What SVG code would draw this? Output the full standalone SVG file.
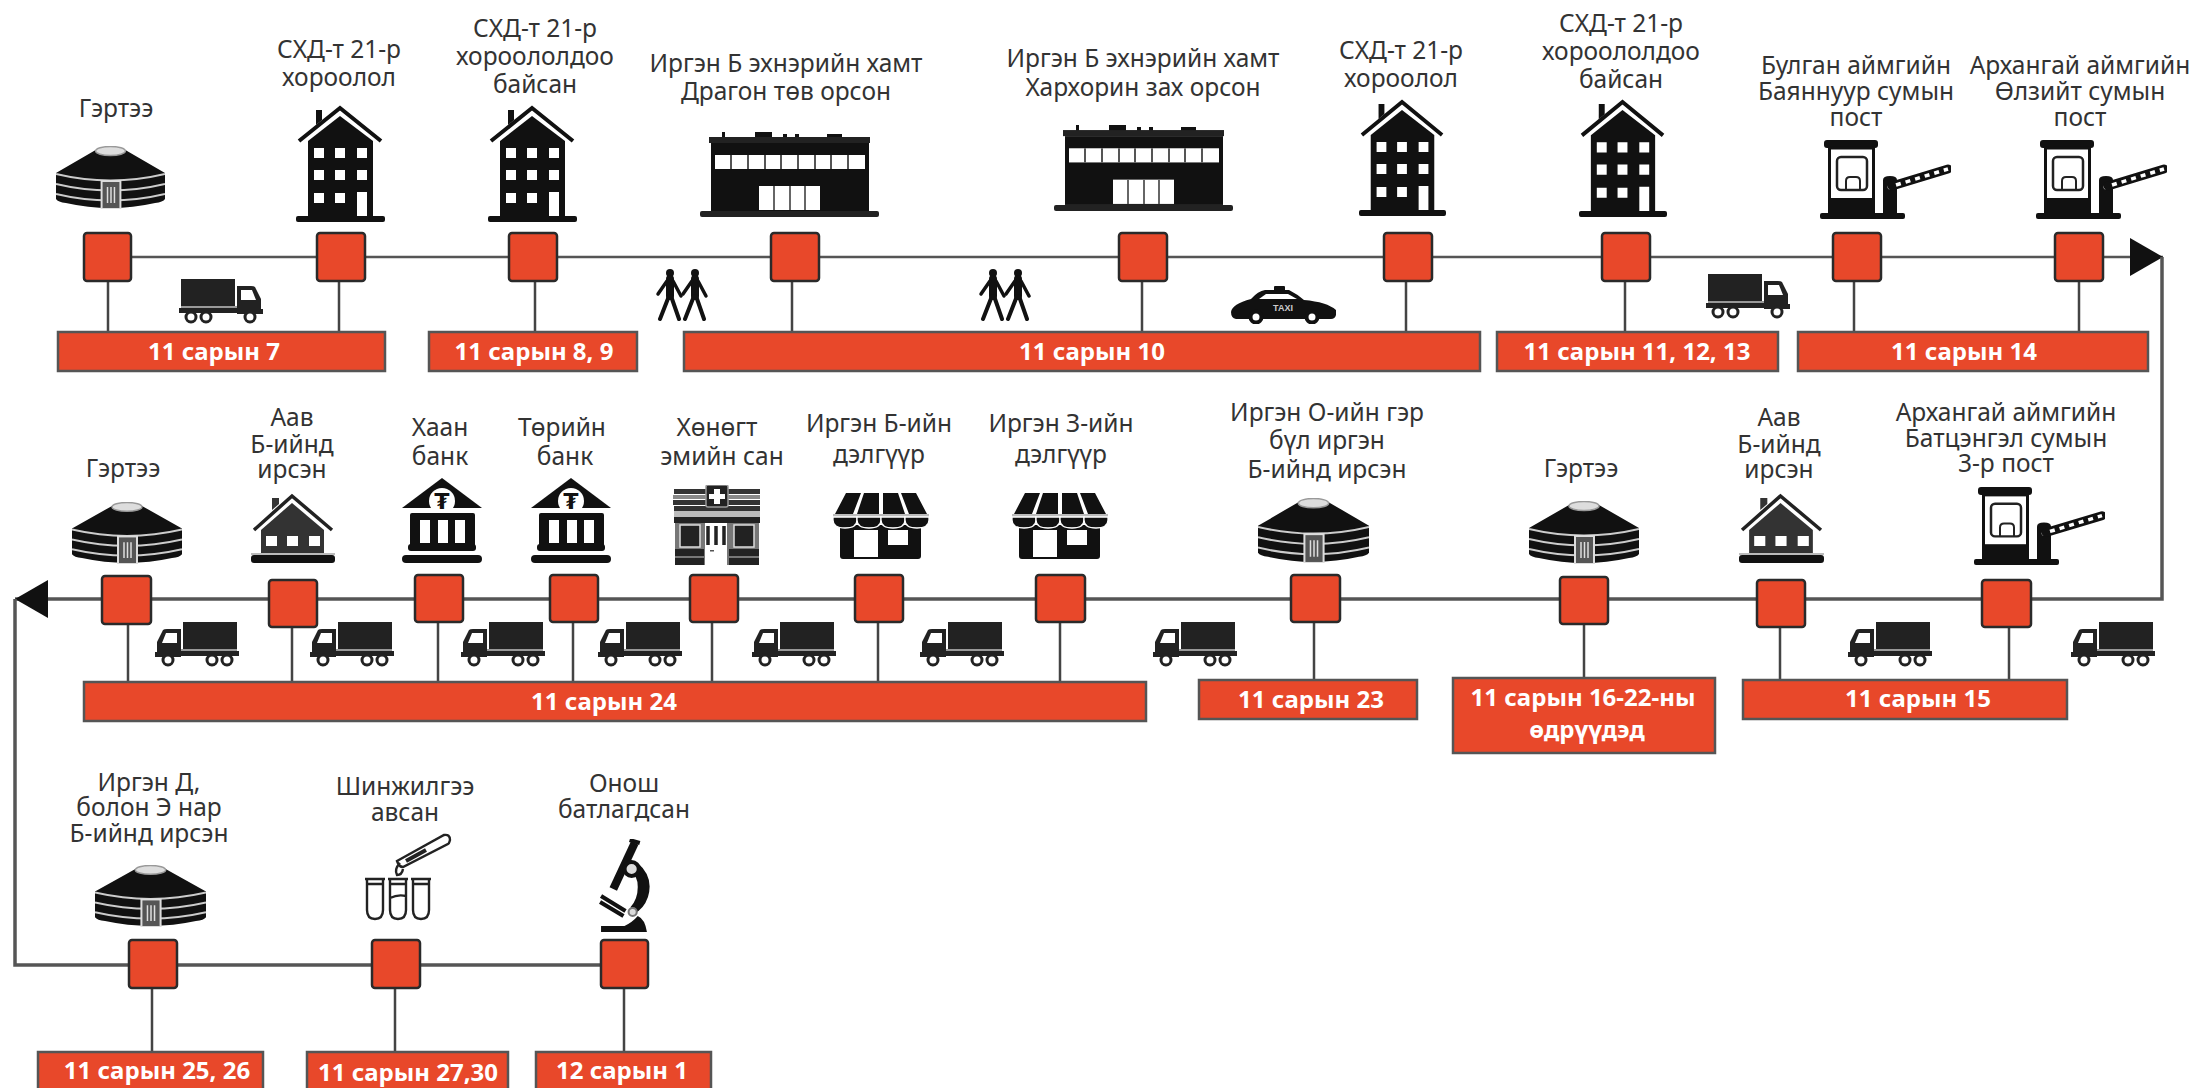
<svg xmlns="http://www.w3.org/2000/svg" width="2196" height="1088" viewBox="0 0 2196 1088">
<style>
.l{font-family:"Noto Sans","Liberation Sans",sans-serif;font-size:24.5px;fill:#333;text-anchor:middle}
.d{font-family:"Noto Sans","Liberation Sans",sans-serif;font-size:24px;font-weight:700;fill:#fff;text-anchor:middle}
.b{fill:#E8482A;stroke:#2a2a2a;stroke-width:2.5}
.bar{fill:#E8482A;stroke:#555;stroke-width:2.5}
.main{fill:none;stroke:#555;stroke-width:3.5}
.thin{fill:none;stroke:#555;stroke-width:2.5}
.stem{fill:none;stroke:#444;stroke-width:2.5}
</style>
<defs>
<marker id="arrow" markerUnits="userSpaceOnUse" markerWidth="34" markerHeight="38" refX="33" refY="19" orient="auto"><path d="M0 0L33 19L0 38Z" fill="#111"/></marker>
<symbol id="yurt" viewBox="0 0 110 63" preserveAspectRatio="none">
<path d="M0 27L40 4H70L110 27V53Q108 56 100 57Q55 67 10 57Q2 56 0 53Z" fill="#111"/>
<ellipse cx="55" cy="5" rx="15" ry="4.500" fill="#ddd" stroke="#999" stroke-width="1.500"/>
<path d="M0 28Q55 41 110 28M0 38Q55 51 110 38M0 48Q55 61 110 48" fill="none" stroke="#ccc" stroke-width="2"/>
<rect x="46" y="35" width="19" height="28" fill="#555" stroke="#ddd" stroke-width="2"/>
<path d="M52 41V57M55.500 41V57M59 41V57" stroke="#ddd" stroke-width="1.500"/>
</symbol>
<symbol id="tall" viewBox="0 0 89 117" preserveAspectRatio="none">
<path d="M3 36L44 3L85 36" fill="none" stroke="#111" stroke-width="4"/>
<path d="M20 20V5H26V15Z" fill="#111"/>
<path d="M12 36L44 11L77 36V112H12Z" fill="#111"/>
<rect x="0" y="111" width="89" height="6" rx="2" fill="#111"/>
<path fill="#fff" d="M18 43h10v10H18zM39 43h10v10H39zM61 43h10v10H61zM18 65h10v10H18zM39 65h10v10H39zM61 65h10v10H61zM18 88h10v10H18zM39 88h10v10H39zM61 87h10v24H61z"/>
</symbol>
<symbol id="mall" viewBox="0 0 179 85" preserveAspectRatio="none">
<path fill="#111" d="M22 0h3v6h-3zM55 0h17v6H55zM83 2h4v4h-4zM95 2h4v4h-4zM127 2h15v4h-15z"/>
<rect x="9" y="5" width="161" height="6" fill="#222"/>
<rect x="11" y="11" width="158" height="68" fill="#111"/>
<rect x="15" y="23" width="150" height="14" fill="#fff"/>
<path d="M31 23V37M48 23V37M65 23V37M81 23V37M98 23V37M115 23V37M131 23V37M148 23V37" stroke="#555" stroke-width="2"/>
<rect x="59" y="54" width="61" height="24" fill="#fff"/>
<path d="M74 54V78M90 54V78M105 54V78" stroke="#666" stroke-width="2"/>
<rect x="0" y="79" width="179" height="6" rx="2" fill="#222"/>
</symbol>
<symbol id="post" viewBox="0 0 131 79" preserveAspectRatio="none">
<rect x="4" y="0" width="54" height="8" rx="3" fill="#111"/>
<rect x="9.500" y="8" width="44" height="52" fill="#fff" stroke="#111" stroke-width="3"/>
<rect x="17" y="17" width="30" height="33" rx="4" fill="#fff" stroke="#222" stroke-width="2.500"/>
<path d="M26 50V41Q26 37 30 37H36Q40 37 40 41V50" fill="none" stroke="#222" stroke-width="2"/>
<rect x="8" y="58" width="47" height="15" fill="#111"/>
<rect x="0" y="73" width="85" height="6" rx="2" fill="#111"/>
<path d="M63 73V40Q63 36 70 36Q77 36 77 40V73Z" fill="#111"/>
<circle cx="70" cy="47" r="2.500" fill="#fff"/>
<path d="M72 46L128 29" stroke="#111" stroke-width="9" stroke-linecap="round"/>
<path d="M76 45L128 29" stroke="#fff" stroke-width="3.500" stroke-dasharray="5 5"/>
</symbol>
<g id="truckShape">
<rect x="28" y="0" width="54" height="27" fill="#222"/>
<path d="M2 32V20L8 8Q9 7 12 7H26V34H2Z" fill="#222"/>
<path d="M7 21L11 11H22V21Z" fill="#fff"/>
<rect x="26" y="27" width="56" height="2" fill="#999"/>
<rect x="26" y="29" width="58" height="5" fill="#222"/>
<rect x="0" y="30" width="26" height="5" fill="#222"/>
<g fill="#fff" stroke="#222" stroke-width="3"><circle cx="13" cy="38" r="5"/><circle cx="57" cy="38" r="5"/><circle cx="72" cy="38" r="5"/></g>
</g>
<symbol id="truckL" viewBox="0 0 84 45" preserveAspectRatio="none"><use href="#truckShape"/></symbol>
<symbol id="truckR" viewBox="0 0 84 45" preserveAspectRatio="none"><use href="#truckShape" transform="translate(84,0) scale(-1,1)"/></symbol>
<g id="walker" fill="none" stroke="#111" stroke-width="4" stroke-linecap="round"><circle cx="15" cy="4" r="4" fill="#111" stroke="none"/><path d="M15 10V27" stroke-width="8"/><path d="M14 27L5 50M16 27L24 50"/><path d="M12 12L3 25M18 12L26 27" stroke-width="3.500"/></g>
<symbol id="walkers" viewBox="0 0 55 52" preserveAspectRatio="none"><use href="#walker"/><use href="#walker" x="25"/></symbol>
<symbol id="taxi" viewBox="0 0 105 38" preserveAspectRatio="none">
<rect x="43" y="0" width="11" height="5" rx="1" fill="#111"/>
<path d="M0 26Q1 18 20 13Q27 5 34 4H58Q66 8 73 14Q96 16 105 24V29Q104 33 100 33H5Q0 32 0 26Z" fill="#111"/>
<path d="M28 13L35 8H57L66 13Z" fill="#fff"/>
<g fill="#fff" stroke="#111" stroke-width="4"><circle cx="25" cy="31" r="5.500"/><circle cx="81" cy="31" r="5.500"/></g>
<text x="52" y="25" font-family="Liberation Sans,sans-serif" font-size="9" font-weight="700" fill="#ccc" text-anchor="middle">TAXI</text>
</symbol>
<symbol id="shop" viewBox="0 0 96 66" preserveAspectRatio="none">
<rect x="7" y="32" width="81" height="34" rx="3" fill="#111"/>
<path d="M21 37H45V64H21ZM55 37H75V52H55Z" fill="#fff"/>
<path fill="#111" d="M13 0H28L20 21H2ZM31 0H46V21H24ZM50 0H65L72 21H50ZM68 0H83L94 21H76Z"/>
<rect x="0" y="21" width="96" height="3" fill="#bbb"/>
<g fill="#111" stroke="#fff" stroke-width="1.300"><path d="M0 24H24V27Q24 35 12 35Q0 35 0 27Z"/><path d="M24 24H48V27Q48 35 36 35Q24 35 24 27Z"/><path d="M48 24H72V27Q72 35 60 35Q48 35 48 27Z"/><path d="M72 24H96V27Q96 35 84 35Q72 35 72 27Z"/></g>
</symbol>
<symbol id="house" viewBox="0 0 84 70" preserveAspectRatio="none">
<path d="M3 37L41 3L81 37" fill="none" stroke="#222" stroke-width="3.500"/>
<path d="M21 17V5H28V11Z" fill="#333"/>
<path d="M10 37L41 10L73 37V62H10Z" fill="#333"/>
<rect x="0" y="62" width="84" height="8" rx="3" fill="#111"/>
<rect x="0" y="60" width="84" height="2" fill="#bbb"/>
<path fill="#fff" d="M15 43h11v10H15zM36 43h11v10H36zM58 43h11v10H58z"/>
</symbol>
<symbol id="bank" viewBox="0 0 80 85" preserveAspectRatio="none">
<path d="M40 0L80 30H0Z" fill="#111"/>
<circle cx="40" cy="23" r="13" fill="#fff"/>
<text x="40" y="31" font-family="DejaVu Sans,sans-serif" font-size="22" font-weight="700" fill="#111" text-anchor="middle">₮</text>
<rect x="8" y="35" width="65" height="36" rx="2" fill="#111"/>
<path fill="#fff" d="M18 42h10v23H18zM36 42h10v23H36zM53 42h10v23H53z"/>
<rect x="6" y="66" width="68" height="7" rx="3" fill="#111"/>
<rect x="0" y="77" width="80" height="8" rx="4" fill="#111"/>
</symbol>
<symbol id="pharmacy" viewBox="0 0 90 82" preserveAspectRatio="none">
<path fill="#333" d="M2 4H88V9H2zM1 15H88V20H1zM2 21H88V26H2z"/>
<path fill="#888" d="M1 10H88V14H1z"/>
<rect x="34" y="0" width="22" height="22" rx="2" fill="#222" stroke="#999" stroke-width="1.500"/>
<path d="M42 4h6v5h5v5h-5v5h-6v-5h-5v-5h5z" fill="#fff"/>
<rect x="2" y="26" width="86" height="6" fill="#bbb"/>
<rect x="2" y="32" width="86" height="6" fill="#222"/>
<rect x="3" y="38" width="84" height="42" fill="#777"/>
<path fill="#222" stroke="#ddd" stroke-width="1.500" d="M8 40H28V62H8zM62 40H82V62H62z"/>
<path fill="#222" d="M3 64H32V71H3zM3 73H32V80H3zM57 64H87V71H57zM57 73H87V80H57z"/>
<rect x="33" y="38" width="22" height="42" fill="#fff"/>
<path d="M36 41V60M44 41V60M52 41V60" stroke="#222" stroke-width="3.500"/>
<rect x="38" y="65" width="4" height="1.500" fill="#555"/>
</symbol>
<symbol id="tubes" viewBox="0 0 88 88" preserveAspectRatio="none">
<g fill="none" stroke="#222" stroke-width="2.400">
<path d="M1 46H21M3 46V77Q3 86 11 86Q19 86 19 77V46M3 51H19"/>
<path d="M24 46H44M26 46V77Q26 86 34 86Q42 86 42 77V46M26 51H42M26 65Q34 61 42 63"/>
<path d="M47 46H67M49 46V77Q49 86 57 86Q65 86 65 77V46M49 51H65"/>
<path d="M33 28L80 2Q86 1 86 7Q85 11 84 11L39 34Q35 34 33 28Z"/>
<path d="M36 30Q30 36 33 42Q38 42 39 36"/>
<path d="M42 28L62 17" stroke-width="4"/>
</g>
</symbol>
<symbol id="micro" viewBox="0 0 50 93" preserveAspectRatio="none">
<path d="M2 93V87H25Q33 83 38 77Q45 80 47 93Z" fill="#111"/>
<path d="M38 24Q54 38 48 58Q44 70 34 75L31 68Q38 60 38 48Q38 36 30 32Z" fill="#111"/>
<path d="M35 4L14 50" stroke="#111" stroke-width="8"/>
<path d="M30 1L40 4" stroke="#111" stroke-width="4"/>
<circle cx="32" cy="30" r="7" fill="#ddd" stroke="#111" stroke-width="4"/>
<path d="M2 57L26 72M1 63L24 77" stroke="#111" stroke-width="4"/>
<circle cx="33" cy="73" r="4" fill="#ddd" stroke="#777" stroke-width="2"/>
</symbol>
</defs>
<rect width="2196" height="1088" fill="#fff"/>

<g id="connectors">
<path class="thin" marker-end="url(#arrow)" d="M107 257H2163"/>
<path class="main" marker-end="url(#arrow)" d="M2162 257V599H15"/>
<path class="main" d="M15 599V965H624"/>
<path class="stem" d="M108 281V332M339 281V332M535 281V332M792 281V332M1142 281V332M1406 281V332M1625 281V332M1854 281V332M2079 281V332"/>
<path class="stem" d="M128 624V682M292 627V682M438 622V682M573 622V682M712 622V682M878 622V682M1060 622V682M1314 622V680M1584 624V678M1780 627V680M2009 627V680"/>
<path class="stem" d="M152 988V1052M395 988V1052M624 988V1052"/>
</g>

<g id="n1"><text class="l" x="116" y="117">Гэртээ</text><use href="#yurt" x="56" y="146" width="109" height="63"/><rect class="b" x="84" y="233" width="47" height="48" rx="3"/></g>
<g id="n2"><text class="l"><tspan x="339" y="58">СХД-т 21-р</tspan><tspan x="339" y="86">хороолол</tspan></text><use href="#tall" x="296" y="105" width="89" height="117"/><rect class="b" x="317" y="233" width="48" height="48" rx="3"/></g>
<g id="n3"><text class="l"><tspan x="535" y="37">СХД-т 21-р</tspan><tspan x="535" y="65">хороололдоо</tspan><tspan x="535" y="93">байсан</tspan></text><use href="#tall" x="488" y="105" width="89" height="117"/><rect class="b" x="509" y="233" width="48" height="48" rx="3"/></g>
<g id="n4"><text class="l"><tspan x="786" y="72">Иргэн Б эхнэрийн хамт</tspan><tspan x="786" y="100">Драгон төв орсон</tspan></text><use href="#mall" x="700" y="132" width="179" height="85"/><rect class="b" x="771" y="233" width="48" height="48" rx="3"/></g>
<g id="n5"><text class="l"><tspan x="1143" y="67">Иргэн Б эхнэрийн хамт</tspan><tspan x="1143" y="96">Хархорин зах орсон</tspan></text><use href="#mall" x="1054" y="125" width="179" height="86"/><rect class="b" x="1119" y="233" width="48" height="48" rx="3"/></g>
<g id="n6"><text class="l"><tspan x="1401" y="59">СХД-т 21-р</tspan><tspan x="1401" y="87">хороолол</tspan></text><use href="#tall" x="1359" y="99" width="87" height="117"/><rect class="b" x="1384" y="233" width="48" height="48" rx="3"/></g>
<g id="n7"><text class="l"><tspan x="1621" y="32">СХД-т 21-р</tspan><tspan x="1621" y="60">хороололдоо</tspan><tspan x="1621" y="88">байсан</tspan></text><use href="#tall" x="1579" y="99" width="88" height="118"/><rect class="b" x="1602" y="233" width="48" height="48" rx="3"/></g>
<g id="n8"><text class="l"><tspan x="1856" y="74">Булган аймгийн</tspan><tspan x="1856" y="100">Баяннуур сумын</tspan><tspan x="1856" y="126">пост</tspan></text><use href="#post" x="1820" y="140" width="131" height="79"/><rect class="b" x="1833" y="233" width="48" height="48" rx="3"/></g>
<g id="n9"><text class="l"><tspan x="2080" y="74">Архангай аймгийн</tspan><tspan x="2080" y="100">Өлзийт сумын</tspan><tspan x="2080" y="126">пост</tspan></text><use href="#post" x="2036" y="140" width="131" height="79"/><rect class="b" x="2055" y="233" width="48" height="48" rx="3"/></g>

<g id="n10"><text class="l" x="123" y="477">Гэртээ</text><use href="#yurt" x="72" y="502" width="110" height="62"/><rect class="b" x="102" y="576" width="49" height="48" rx="3"/></g>
<g id="n11"><text class="l"><tspan x="292" y="426">Аав</tspan><tspan x="292" y="453">Б-ийнд</tspan><tspan x="292" y="478">ирсэн</tspan></text><use href="#house" x="251" y="493" width="84" height="70"/><rect class="b" x="269" y="580" width="48" height="47" rx="3"/></g>
<g id="n12"><text class="l"><tspan x="440" y="436">Хаан</tspan><tspan x="440" y="465">банк</tspan></text><use href="#bank" x="402" y="478" width="80" height="85"/><rect class="b" x="415" y="575" width="48" height="47" rx="3"/></g>
<g id="n13"><text class="l"><tspan x="562" y="436">Төрийн</tspan><tspan x="565" y="465">банк</tspan></text><use href="#bank" x="531" y="478" width="80" height="85"/><rect class="b" x="550" y="575" width="48" height="47" rx="3"/></g>
<g id="n14"><text class="l"><tspan x="717" y="436">Хөнөгт</tspan><tspan x="722" y="465">эмийн сан</tspan></text><use href="#pharmacy" x="672" y="485" width="90" height="82"/><rect class="b" x="690" y="575" width="48" height="47" rx="3"/></g>
<g id="n15"><text class="l"><tspan x="879" y="432">Иргэн Б-ийн</tspan><tspan x="879" y="463">дэлгүүр</tspan></text><use href="#shop" x="833" y="493" width="96" height="66"/><rect class="b" x="855" y="575" width="48" height="47" rx="3"/></g>
<g id="n16"><text class="l"><tspan x="1061" y="432">Иргэн З-ийн</tspan><tspan x="1061" y="463">дэлгүүр</tspan></text><use href="#shop" x="1012" y="493" width="96" height="66"/><rect class="b" x="1036" y="575" width="49" height="47" rx="3"/></g>
<g id="n17"><text class="l"><tspan x="1327" y="421">Иргэн О-ийн гэр</tspan><tspan x="1327" y="449">бүл иргэн</tspan><tspan x="1327" y="478">Б-ийнд ирсэн</tspan></text><use href="#yurt" x="1258" y="498" width="111" height="65"/><rect class="b" x="1291" y="575" width="49" height="47" rx="3"/></g>
<g id="n18"><text class="l" x="1581" y="477">Гэртээ</text><use href="#yurt" x="1529" y="501" width="110" height="63"/><rect class="b" x="1560" y="577" width="48" height="47" rx="3"/></g>
<g id="n19"><text class="l"><tspan x="1779" y="426">Аав</tspan><tspan x="1779" y="453">Б-ийнд</tspan><tspan x="1779" y="478">ирсэн</tspan></text><use href="#house" x="1739" y="493" width="85" height="70"/><rect class="b" x="1757" y="580" width="48" height="47" rx="3"/></g>
<g id="n20"><text class="l"><tspan x="2006" y="421">Архангай аймгийн</tspan><tspan x="2006" y="447">Батцэнгэл сумын</tspan><tspan x="2006" y="472">3-р пост</tspan></text><use href="#post" x="1974" y="487" width="131" height="78"/><rect class="b" x="1982" y="580" width="49" height="47" rx="3"/></g>

<g id="n21"><text class="l"><tspan x="149" y="791">Иргэн Д,</tspan><tspan x="149" y="816">болон Э нар</tspan><tspan x="149" y="842">Б-ийнд ирсэн</tspan></text><use href="#yurt" x="95" y="865" width="111" height="62"/><rect class="b" x="129" y="940" width="48" height="48" rx="3"/></g>
<g id="n22"><text class="l"><tspan x="405" y="795">Шинжилгээ</tspan><tspan x="405" y="821">авсан</tspan></text><use href="#tubes" x="364" y="833" width="88" height="88"/><rect class="b" x="372" y="940" width="48" height="48" rx="3"/></g>
<g id="n23"><text class="l"><tspan x="624" y="792">Онош</tspan><tspan x="624" y="818">батлагдсан</tspan></text><use href="#micro" x="599" y="839" width="51" height="93"/><rect class="b" x="601" y="940" width="47" height="48" rx="3"/></g>

<g id="transport">
<use href="#truckR" x="179" y="279" width="84" height="45"/>
<use href="#truckR" x="1706" y="274" width="84" height="45"/>
<use href="#walkers" x="655" y="269" width="55" height="52"/>
<use href="#walkers" x="978" y="269" width="55" height="52"/>
<use href="#taxi" x="1231" y="286" width="105" height="38"/>
<use href="#truckL" x="155" y="622" width="84" height="45"/>
<use href="#truckL" x="310" y="622" width="84" height="45"/>
<use href="#truckL" x="461" y="622" width="84" height="45"/>
<use href="#truckL" x="598" y="622" width="84" height="45"/>
<use href="#truckL" x="752" y="622" width="84" height="45"/>
<use href="#truckL" x="920" y="622" width="84" height="45"/>
<use href="#truckL" x="1153" y="622" width="84" height="45"/>
<use href="#truckL" x="1848" y="622" width="84" height="45"/>
<use href="#truckL" x="2071" y="622" width="84" height="45"/>
</g>

<g id="d1"><rect class="bar" x="58" y="332" width="327" height="39"/><text class="d" x="214" y="360">11 сарын 7</text></g>
<g id="d2"><rect class="bar" x="429" y="332" width="208" height="39"/><text class="d" x="534" y="360">11 сарын 8, 9</text></g>
<g id="d3"><rect class="bar" x="684" y="332" width="796" height="39"/><text class="d" x="1092" y="360">11 сарын 10</text></g>
<g id="d4"><rect class="bar" x="1497" y="332" width="281" height="39"/><text class="d" x="1637" y="360">11 сарын 11, 12, 13</text></g>
<g id="d5"><rect class="bar" x="1798" y="332" width="350" height="39"/><text class="d" x="1964" y="360">11 сарын 14</text></g>
<g id="d6"><rect class="bar" x="84" y="682" width="1062" height="39"/><text class="d" x="604" y="710">11 сарын 24</text></g>
<g id="d7"><rect class="bar" x="1199" y="680" width="218" height="39"/><text class="d" x="1311" y="708">11 сарын 23</text></g>
<g id="d8"><rect class="bar" x="1453" y="678" width="262" height="75"/><text class="d"><tspan x="1583" y="706">11 сарын 16-22-ны</tspan><tspan x="1587" y="738">өдрүүдэд</tspan></text></g>
<g id="d9"><rect class="bar" x="1743" y="680" width="324" height="39"/><text class="d" x="1918" y="707">11 сарын 15</text></g>
<g id="d10"><rect class="bar" x="38" y="1052" width="225" height="40"/><text class="d" x="157" y="1079">11 сарын 25, 26</text></g>
<g id="d11"><rect class="bar" x="307" y="1052" width="201" height="40"/><text class="d" x="408" y="1081">11 сарын 27,30</text></g>
<g id="d12"><rect class="bar" x="536" y="1052" width="175" height="40"/><text class="d" x="622" y="1079">12 сарын 1</text></g>
</svg>
